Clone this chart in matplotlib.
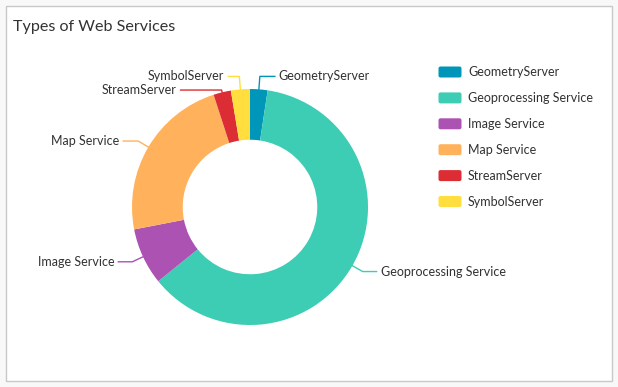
import matplotlib
matplotlib.use("Agg")
import matplotlib.pyplot as plt
import matplotlib.patches as patches
import numpy as np

services = ["GeometryServer", "Geoprocessing Service", "Image Service",
            "Map Service", "StreamServer", "SymbolServer"]
shares = [2.4, 61.9, 7.8, 23.1, 2.4, 2.6]
colors = ["#0096b9", "#3dccb4", "#ab52b3", "#ffb25b", "#dc2d34", "#ffde3e"]

# leader line layout: elbow radius and horizontal run (px) per label
elbow_r = [1.11, 1.1, 1.1, 1.1, 1.02, 1.11]
run_px = [15, 14, 14, 15, 41, 11]

plt.rcParams["font.family"] = ["Lato", "DejaVu Sans"]
txt_color = "#323232"

W, H = 618, 387
fig = plt.figure(figsize=(W / 100, H / 100), dpi=100)
fig.patch.set_facecolor("#f8f8f8")

# background axes in pixel coordinates
bg = fig.add_axes([0, 0, 1, 1])
bg.set_xlim(0, W)
bg.set_ylim(H, 0)
bg.axis("off")
bg.add_patch(patches.Rectangle((5.5, 5.5), 606, 375, fc="white", ec="#c8c8c8", lw=1))
bg.text(13, 27, "Types of Web Services", fontsize=11.6, color=txt_color,
        ha="left", va="center")

# legend
for i, (name, col) in enumerate(zip(services, colors)):
    y = 72 + i * 25.9
    bg.add_patch(patches.FancyBboxPatch((438.5, y - 5.5), 23, 11,
                                        boxstyle="round,pad=0,rounding_size=2",
                                        fc=col, ec="none"))
    bg.text(468, y, name, fontsize=9, color=txt_color, ha="left", va="center")

# donut
cx, cy, r = 250, 207, 118
ax = fig.add_axes([(cx - r) / W, (H - cy - r) / H, 2 * r / W, 2 * r / H])
wedges, _ = ax.pie(shares, colors=colors, startangle=90, counterclock=False,
                   radius=1, wedgeprops=dict(width=0.43, edgecolor="none"))
ax.set_xlim(-1, 1)
ax.set_ylim(-1, 1)

for w, name, col, er, run in zip(wedges, services, colors, elbow_r, run_px):
    a = np.deg2rad((w.theta1 + w.theta2) / 2)
    sx, sy = np.cos(a), np.sin(a)
    ex, ey = er * sx, er * sy
    side = 1 if sx > 0 else -1
    tx = ex + side * run / r
    ax.plot([sx, ex, tx], [sy, ey, ey], color=col, lw=1, clip_on=False)
    ax.text(tx + side * 4 / r, ey, name, fontsize=9, color=txt_color,
            ha="left" if side > 0 else "right", va="center", clip_on=False)

fig.savefig("out.png", dpi=100, facecolor=fig.get_facecolor())
